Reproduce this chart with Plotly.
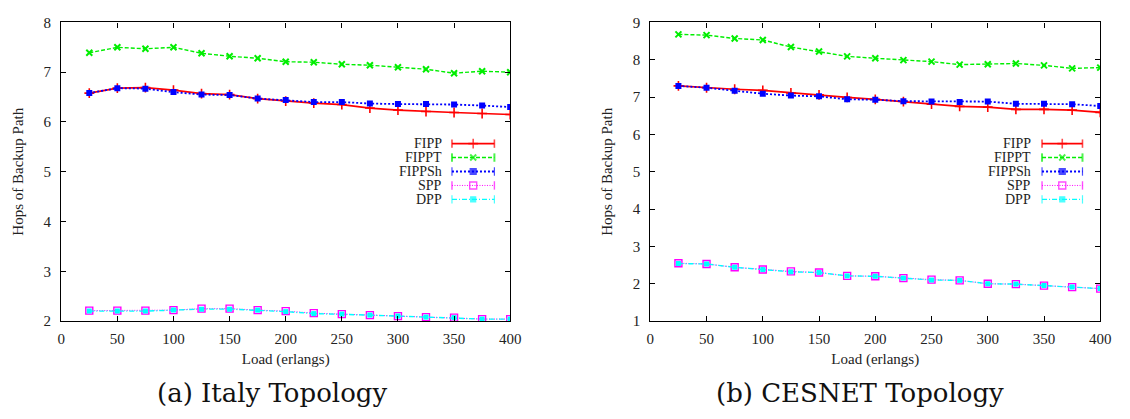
import plotly.graph_objects as go

# ---------------- data ----------------
load = [25, 50, 75, 100, 125, 150, 175, 200, 225, 250, 275, 300, 325, 350, 375, 400]
series_names = ["FIPP", "FIPPT", "FIPPSh", "SPP", "DPP"]

italy_fipp   = [6.58, 6.68, 6.69, 6.64, 6.57, 6.55, 6.47, 6.42, 6.38, 6.35, 6.28, 6.24, 6.21, 6.19, 6.17, 6.15]
italy_fippt  = [7.39, 7.50, 7.47, 7.50, 7.38, 7.32, 7.28, 7.21, 7.20, 7.16, 7.14, 7.10, 7.06, 6.98, 7.02, 7.00]
italy_fippsh = [6.58, 6.68, 6.67, 6.60, 6.55, 6.54, 6.47, 6.44, 6.40, 6.40, 6.37, 6.36, 6.36, 6.35, 6.33, 6.30]
italy_spp    = [2.21, 2.21, 2.21, 2.22, 2.25, 2.25, 2.22, 2.20, 2.16, 2.14, 2.12, 2.10, 2.08, 2.07, 2.04, 2.04]
italy_dpp    = [2.20, 2.20, 2.20, 2.22, 2.24, 2.24, 2.22, 2.19, 2.15, 2.14, 2.12, 2.10, 2.08, 2.07, 2.04, 2.04]

cesnet_fipp   = [7.30, 7.25, 7.21, 7.18, 7.11, 7.06, 6.99, 6.94, 6.88, 6.81, 6.75, 6.73, 6.67, 6.67, 6.65, 6.59]
cesnet_fippt  = [8.68, 8.66, 8.57, 8.53, 8.34, 8.22, 8.09, 8.04, 7.99, 7.95, 7.87, 7.88, 7.90, 7.85, 7.77, 7.79]
cesnet_fippsh = [7.30, 7.25, 7.17, 7.09, 7.04, 7.02, 6.94, 6.93, 6.89, 6.88, 6.87, 6.88, 6.82, 6.82, 6.81, 6.76]
cesnet_spp    = [2.55, 2.53, 2.44, 2.38, 2.33, 2.30, 2.21, 2.20, 2.15, 2.11, 2.09, 2.00, 1.99, 1.95, 1.91, 1.87]
cesnet_dpp    = [2.54, 2.53, 2.44, 2.38, 2.32, 2.30, 2.21, 2.20, 2.15, 2.10, 2.09, 2.00, 1.99, 1.95, 1.91, 1.87]

x_ticks = [0, 50, 100, 150, 200, 250, 300, 350, 400]
italy_yticks = [2, 3, 4, 5, 6, 7, 8]
cesnet_yticks = [1, 2, 3, 4, 5, 6, 7, 8, 9]
captions = ["(a) Italy Topology", "(b) CESNET Topology"]
x_title = "Load (erlangs)"
y_title = "Hops of Backup Path"

# ---------------- styles ----------------
W, H = 1130, 419
SERIF = "Liberation Serif, Times New Roman, serif"
CAPTION_FONT = "DejaVu Serif, serif"
TXT = "#222222"
styles = {
    "FIPP":   dict(color="#ff0000", dash="solid",           width=1.7, symbol="cross-thin-open", size=7, mlw=1.6),
    "FIPPT":  dict(color="#00ee00", dash="4px,2px",         width=1.4, symbol="x-thin-open",     size=6, mlw=2.0),
    "FIPPSh": dict(color="#0000ff", dash="2px,2px",         width=1.8, symbol="square",          size=6, mlw=0),
    "SPP":    dict(color="#ff00ff", dash="1px,1.5px",       width=1.0, symbol="square-open",     size=7, mlw=1.4),
    "DPP":    dict(color="#00ffff", dash="5px,2px,1px,2px", width=1.4, symbol="square",          size=5, mlw=0),
}

fig = go.Figure()

panels = [
    dict(xa="x", ya="y", data=[italy_fipp, italy_fippt, italy_fippsh, italy_spp, italy_dpp]),
    dict(xa="x2", ya="y2", data=[cesnet_fipp, cesnet_fippt, cesnet_fippsh, cesnet_spp, cesnet_dpp]),
]

for p in panels:
    for name, vals in zip(series_names, p["data"]):
        s = styles[name]
        fig.add_trace(go.Scatter(
            x=load, y=vals, name=name, mode="lines+markers",
            xaxis=p["xa"], yaxis=p["ya"], showlegend=False,
            line=dict(color=s["color"], dash=s["dash"], width=s["width"]),
            marker=dict(symbol=s["symbol"], size=s["size"], color=s["color"],
                        line=dict(color=s["color"], width=s["mlw"])),
        ))

# --------- gnuplot-style legends (text right-aligned, sample on the right) ---------
legend_layout = [  # (text right edge px, sample start px, sample end px, first row y px)
    (446, 454, 497, 141),
    (1043, 1052, 1093, 141),
]
row_step = 14.5
for (tx, sx0, sx1, y0) in legend_layout:
    for i, name in enumerate(series_names):
        s = styles[name]
        yy = y0 + i * row_step
        xm = (sx0 + sx1) / 2
        fig.add_trace(go.Scatter(
            x=[sx0, xm, sx1], y=[yy, yy, yy], mode="lines+markers",
            xaxis="x3", yaxis="y3", showlegend=False, hoverinfo="skip",
            line=dict(color=s["color"], dash=s["dash"], width=s["width"]),
            marker=dict(symbol=["line-ns-open", s["symbol"], "line-ns-open"],
                        size=[6, s["size"], 6], color=s["color"],
                        line=dict(color=s["color"], width=max(s["mlw"], 1.2))),
        ))
        fig.add_annotation(
            x=tx / W, y=1 - yy / H, xref="paper", yref="paper",
            text=name, showarrow=False, xanchor="right", yanchor="middle",
            font=dict(family=SERIF, size=14, color=TXT),
        )

# captions
for cap, cx in zip(captions, [272, 868]):
    fig.add_annotation(
        x=cx / W, y=1 - 400 / H, xref="paper", yref="paper",
        text=cap, showarrow=False, xanchor="center", yanchor="middle",
        font=dict(family=CAPTION_FONT, size=26, color="#111111"),
    )

axis_common = dict(
    showline=True, linecolor="black", linewidth=1.3, mirror="ticks",
    ticks="inside", ticklen=5, tickwidth=1.2, tickcolor="black",
    showgrid=False, zeroline=False,
    tickfont=dict(family=SERIF, size=15, color=TXT),
)

title_font = dict(family=SERIF, size=15, color=TXT)
y_dom = [1 - 325.5 / H, 1 - 15 / H]
fig.update_layout(
    width=W, height=H, autosize=False,
    margin=dict(l=0, r=0, t=0, b=0),
    paper_bgcolor="white", plot_bgcolor="rgba(0,0,0,0)",
    xaxis=dict(domain=[58 / W, 513 / W], range=[0, 400], tickvals=x_ticks,
               ticklabelstandoff=4,
               title=dict(text=x_title, standoff=7, font=title_font),
               anchor="y", **axis_common),
    yaxis=dict(domain=y_dom, range=[2, 8], tickvals=italy_yticks,
               ticklabelstandoff=6,
               title=dict(text=y_title, standoff=16, font=title_font),
               anchor="x", **axis_common),
    xaxis2=dict(domain=[655 / W, 1111 / W], range=[0, 400], tickvals=x_ticks,
                ticklabelstandoff=4,
                title=dict(text=x_title, standoff=7, font=title_font),
                anchor="y2", **axis_common),
    yaxis2=dict(domain=y_dom, range=[1, 9], tickvals=cesnet_yticks,
                ticklabelstandoff=6,
                title=dict(text=y_title, standoff=16, font=title_font),
                anchor="x2", **axis_common),
    xaxis3=dict(domain=[0, 1], range=[0, W], visible=False, fixedrange=True, anchor="y3"),
    yaxis3=dict(domain=[0, 1], range=[H, 0], visible=False, fixedrange=True, anchor="x3"),
    showlegend=False,
)

fig.write_html("out.html", config={"displayModeBar": False},
               post_script="document.body.style.margin='0';")
